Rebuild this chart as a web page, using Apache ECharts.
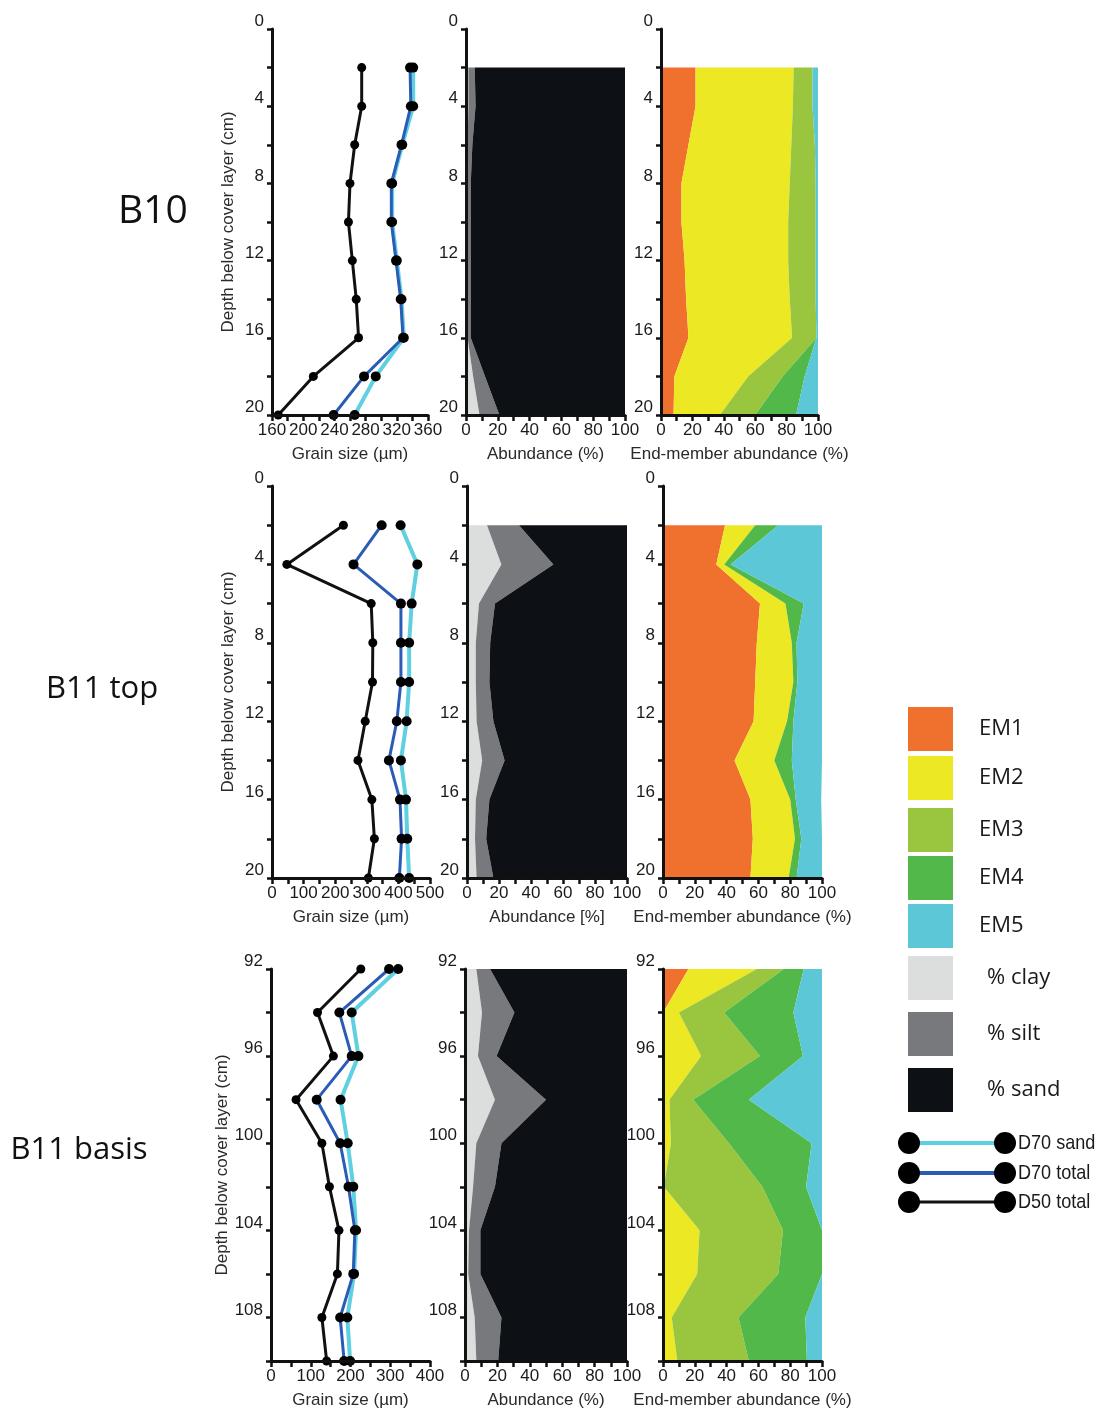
<!DOCTYPE html>
<html>
<head>
<meta charset="utf-8">
<script src="https://cdn.jsdelivr.net/npm/echarts@6/dist/echarts.min.js"></script>
<style>
  html, body { margin: 0; padding: 0; background: #fff; }
  #chart { width: 1099px; height: 1416px; }
</style>
</head>
<body>
<div id="chart"></div>
<script>
// ---- depth categories (cm below cover layer) ----
const depthsUpper = ['0', '2', '4', '6', '8', '10', '12', '14', '16', '18', '20'];
const depthsBasis = ['92', '94', '96', '98', '100', '102', '104', '106', '108', '110'];

// ---- B10 (samples at 2..20 cm) ----
const b10D70Sand  = [341, 341, 327, 314, 314, 320, 326, 329, 293, 266];
const b10D70Total = [337, 338, 326, 313, 313, 319, 325, 328, 278, 239];
const b10D50Total = [275, 275, 266, 260, 258, 263, 268, 271, 213, 168];
const b10Clay = [1.5, 1.5, 1, 1, 1, 1, 1, 1, 4.5, 8.5];
const b10Silt = [4, 4.5, 3, 2, 2, 2, 2, 2, 7.5, 12.5];
const b10Sand = [94.5, 94, 96, 97, 97, 97, 97, 97, 88, 79];
const b10EM1 = [22, 22, 17.5, 13, 13, 15, 16, 17.5, 8.5, 8];
const b10EM2 = [62.5, 62, 65.5, 69, 68, 66, 66, 66, 47, 29.5];
const b10EM3 = [12, 12.5, 15, 16.5, 17.5, 17.5, 16.5, 15.5, 22, 22.5];
const b10EM4 = [0, 0, 0, 0, 0, 0, 0, 0, 14, 26];
const b10EM5 = [3.5, 3.5, 2, 1.5, 1.5, 1.5, 1.5, 1, 8.5, 14];

// ---- B11 top (samples at 2..20 cm) ----
const topD70Sand  = [407, 460, 442, 434, 434, 426, 408, 424, 428, 434];
const topD70Total = [347, 258, 408, 408, 408, 395, 370, 405, 410, 403];
const topD50Total = [226, 47, 314, 319, 318, 295, 272, 316, 324, 305];
const topClay = [12.5, 21.5, 7.5, 5.5, 5.5, 6, 9.5, 5.5, 5, 6];
const topSilt = [20, 32.5, 10, 9, 8.5, 10.5, 14, 8.5, 7, 10.5];
const topSand = [67.5, 46, 82.5, 85.5, 86, 83.5, 76.5, 86, 88, 83.5];
const topEM1 = [39, 33.5, 61, 59, 58, 57, 45, 55, 56.5, 55];
const topEM2 = [19, 5, 16, 22, 24, 21, 25, 25, 26.5, 24];
const topEM3 = [0, 0, 0, 0, 0, 0, 0, 0, 0, 0];
const topEM4 = [14.5, 4, 11.5, 3, 2.5, 4, 11, 3.5, 4, 5];
const topEM5 = [27.5, 57.5, 11.5, 16, 15.5, 18, 19, 16, 13, 16];

// ---- B11 basis (samples at 92..110 cm) ----
const basD70Sand  = [320, 203, 220, 175, 193, 207, 214, 209, 192, 199];
const basD70Total = [297, 172, 203, 115, 174, 195, 211, 207, 174, 184];
const basD50Total = [226, 117, 157, 63, 128, 147, 171, 167, 128, 140];
const basClay = [7, 10.5, 8, 18.5, 7, 5, 2.5, 2, 6, 7];
const basSilt = [8.5, 20, 11.5, 31.5, 15.5, 13.5, 7, 7.5, 16.5, 13.5];
const basSand = [84.5, 69.5, 80.5, 50, 77.5, 81.5, 90.5, 90.5, 77.5, 79.5];
const basEM1 = [16, 0, 0, 0, 0.5, 0.3, 0, 0, 0, 0];
const basEM2 = [43, 10, 24, 4, 4.5, 0.2, 23, 21.5, 5.5, 9];
const basEM3 = [17, 28.5, 37, 15, 36.5, 62, 52.5, 51, 42, 45];
const basEM4 = [12.5, 43.5, 27, 35, 52, 27.5, 24.5, 27.5, 42, 36.5];
const basEM5 = [11.5, 18, 12, 46, 6.5, 10, 0, 0, 10.5, 9.5];

// ---- axis names and ranges ----
const depthName = 'Depth below cover layer (cm)';
const grainName = 'Grain size (µm)';
const emName = 'End-member abundance (%)';
const textureNames = ['Abundance (%)', 'Abundance [%]', 'Abundance (%)'];
const grainRanges = [[160, 360, 20, 40], [0, 500, 50, 100], [0, 400, 50, 100]];

// ---- colours ----
const C = {
  d70Sand: '#5fd0e0', d70Total: '#2a5cb5', d50Total: '#111111',
  clay: '#dcdedd', silt: '#77797c', sand: '#0d1015',
  em: ['#f0702e', '#ece824', '#9ac63f', '#51b849', '#5cc7d7'],
  axis: '#111111', text: '#1a1a1a'
};
const sans = '"Liberation Sans", Arial, sans-serif';

// withTop: samples start at 2 cm, nothing at 0 cm
const withTop = arr => ['-'].concat(arr);

const rows = [
  { depths: depthsUpper, pad: withTop,
    grain: [b10D70Sand, b10D70Total, b10D50Total],
    tex: [b10Clay, b10Silt, b10Sand],
    em: [b10EM1, b10EM2, b10EM3, b10EM4, b10EM5] },
  { depths: depthsUpper, pad: withTop,
    grain: [topD70Sand, topD70Total, topD50Total],
    tex: [topClay, topSilt, topSand],
    em: [topEM1, topEM2, topEM3, topEM4, topEM5] },
  { depths: depthsBasis, pad: a => a,
    grain: [basD70Sand, basD70Total, basD50Total],
    tex: [basClay, basSilt, basSand],
    em: [basEM1, basEM2, basEM3, basEM4, basEM5] }
];

// panel frames [left, top, width, height]
const frames = [
  [[272, 29, 156, 386], [466, 29, 159, 386], [661, 29, 157, 386]],
  [[272, 486, 158, 392], [467, 486, 160, 392], [663, 486, 159, 392]],
  [[271, 969, 159, 392], [465, 969, 162, 392], [663, 969, 159, 392]]
];

const grids = [], xAxes = [], yAxes = [], series = [];

function yAxisFor(gi, depths, named) {
  return {
    gridIndex: gi, type: 'category', data: depths, inverse: true, boundaryGap: false, z: 10,
    axisLine: { show: true, lineStyle: { color: C.axis, width: 3 } },
    axisTick: { show: true, interval: 0, length: 5, lineStyle: { color: C.axis, width: 2.5 } },
    axisLabel: { interval: 1, fontSize: 17, fontFamily: sans, color: C.text, margin: 8,
                 verticalAlign: 'bottom', lineHeight: 15 },
    splitLine: { show: false },
    name: named ? depthName : '', nameLocation: 'middle', nameGap: 35,
    nameTextStyle: { fontSize: 17, fontFamily: sans, color: '#2a2a2a' }
  };
}

function xAxisFor(gi, min, max, step, labelStep, name) {
  return {
    gridIndex: gi, type: 'value', min, max, interval: step, z: 10,
    axisLine: { show: true, onZero: false, lineStyle: { color: C.axis, width: 3 } },
    axisTick: { show: true, length: 6, lineStyle: { color: C.axis, width: 2.5 } },
    axisLabel: { fontSize: 17, fontFamily: sans, color: C.text, margin: 7,
                 showMinLabel: true, showMaxLabel: true,
                 formatter: v => (v % labelStep === 0 ? String(v) : '') },
    splitLine: { show: false },
    name, nameLocation: 'middle', nameGap: 31,
    nameTextStyle: { fontSize: 17, fontFamily: sans, color: '#2a2a2a' }
  };
}

function areaLayer(gi, stack, values, color, pad) {
  return {
    type: 'line', xAxisIndex: gi, yAxisIndex: gi, stack, data: pad(values),
    symbol: 'none', showSymbol: false, silent: true,
    lineStyle: { width: 0 }, areaStyle: { color, opacity: 1 }
  };
}

function grainLine(gi, values, color, size, width, pad) {
  return {
    type: 'line', xAxisIndex: gi, yAxisIndex: gi, data: pad(values),
    symbol: 'circle', symbolSize: size, silent: true,
    itemStyle: { color: '#000' },
    lineStyle: { color, width }
  };
}

rows.forEach((row, r) => {
  for (let c = 0; c < 3; c++) {
    const gi = r * 3 + c;
    const f = frames[r][c];
    grids.push({ left: f[0], top: f[1], width: f[2], height: f[3] });
    yAxes.push(yAxisFor(gi, row.depths, c === 0));
    if (c === 0) {
      const g = grainRanges[r];
      xAxes.push(xAxisFor(gi, g[0], g[1], g[2], g[3], grainName));
      series.push(grainLine(gi, row.grain[0], C.d70Sand, 10, 4, row.pad));
      series.push(grainLine(gi, row.grain[1], C.d70Total, 10, 3, row.pad));
      series.push(grainLine(gi, row.grain[2], C.d50Total, 9, 3, row.pad));
    } else if (c === 1) {
      xAxes.push(xAxisFor(gi, 0, 100, 10, 20, textureNames[r]));
      const cols = [C.clay, C.silt, C.sand];
      row.tex.forEach((v, i) => series.push(areaLayer(gi, 'tex' + r, v, cols[i], row.pad)));
    } else {
      xAxes.push(xAxisFor(gi, 0, 100, 10, 20, emName));
      row.em.forEach((v, i) => series.push(areaLayer(gi, 'em' + r, v, C.em[i], row.pad)));
    }
  }
});

// ---- side labels and key ----
const graphic = [];
const rowLabels = [['B10', 153, 212, 39], ['B11 top', 102, 689, 31], ['B11 basis', 79, 1150, 31]];
rowLabels.forEach(([t, x, y, s]) => graphic.push({
  type: 'text', x, y, silent: true,
  style: { text: t, font: `${s}px "Open Sans", "Noto Sans", sans-serif`, fill: '#111',
           textAlign: 'center', textVerticalAlign: 'middle' }
}));

const swatches = [
  ['EM1', C.em[0], 707, 979], ['EM2', C.em[1], 756, 979], ['EM3', C.em[2], 808, 979],
  ['EM4', C.em[3], 856, 979], ['EM5', C.em[4], 904, 979],
  ['% clay', C.clay, 956, 987], ['% silt', C.silt, 1012, 987], ['% sand', C.sand, 1068, 987]
];
swatches.forEach(([t, col, y, tx]) => {
  graphic.push({ type: 'rect', silent: true, shape: { x: 908, y, width: 45, height: 44 },
                 style: { fill: col } });
  graphic.push({ type: 'text', x: tx, y: y + 22, silent: true,
                 style: { text: t, font: '22px "Open Sans", "Noto Sans", sans-serif', fill: '#1a1a1a',
                          textVerticalAlign: 'middle' } });
});

const lineKeys = [['D70 sand', C.d70Sand, 1143, 4], ['D70 total', C.d70Total, 1173, 4], ['D50 total', C.d50Total, 1202, 3]];
lineKeys.forEach(([t, col, y, w]) => {
  graphic.push({ type: 'line', silent: true, shape: { x1: 909, y1: y, x2: 1005, y2: y },
                 style: { stroke: col, lineWidth: w } });
  graphic.push({ type: 'circle', silent: true, shape: { cx: 909, cy: y, r: 11 }, style: { fill: '#000' } });
  graphic.push({ type: 'circle', silent: true, shape: { cx: 1005, cy: y, r: 11 }, style: { fill: '#000' } });
  graphic.push({ type: 'text', x: 1018, y, scaleX: 0.86, silent: true,
                 style: { text: t, font: '21px ' + sans, fill: '#1a1a1a', textVerticalAlign: 'middle' } });
});

const chart = echarts.init(document.getElementById('chart'), null, { renderer: 'canvas' });
chart.setOption({
  animation: false,
  backgroundColor: '#ffffff',
  grid: grids,
  xAxis: xAxes,
  yAxis: yAxes,
  series,
  graphic
});
</script>
</body>
</html>
